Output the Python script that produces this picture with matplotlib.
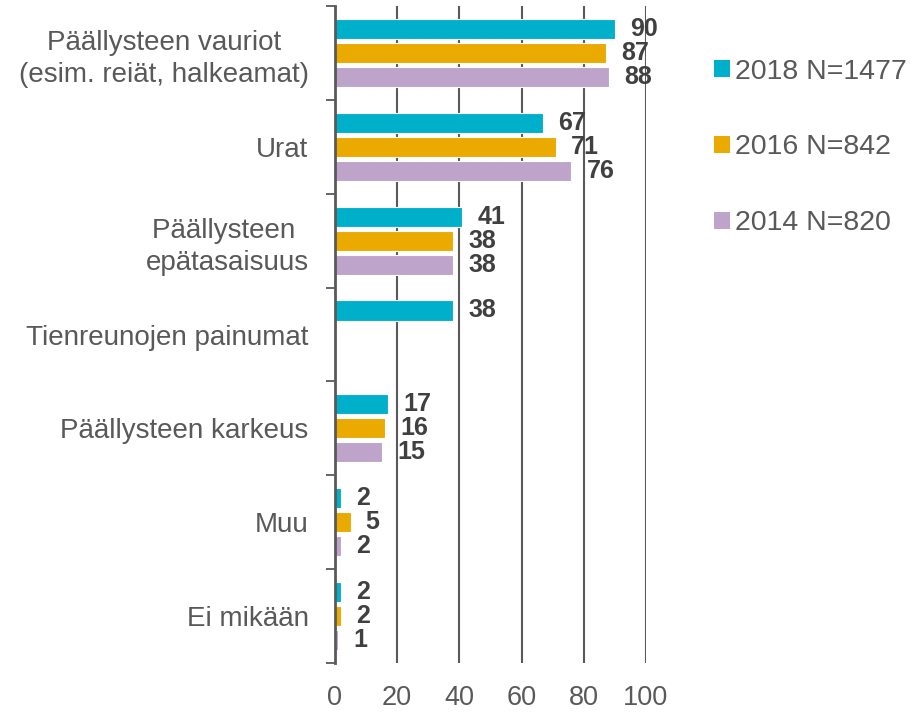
import matplotlib.pyplot as plt
from matplotlib.patches import Patch
import numpy as np

plt.rcParams['font.family'] = ['Liberation Sans', 'DejaVu Sans']

categories = ['Päällysteen vauriot\n(esim. reiät, halkeamat)', 'Urat',
              'Päällysteen \nepätasaisuus', 'Tienreunojen painumat',
              'Päällysteen karkeus', 'Muu', 'Ei mikään']
series_names = ['2018 N=1477', '2016 N=842', '2014 N=820']
vals_2018 = [90, 67, 41, 38, 17, 2, 2]
vals_2016 = [87, 71, 38, None, 16, 5, 2]
vals_2014 = [88, 76, 38, None, 15, 2, 1]
colors = ['#00B0CA', '#EBAA00', '#BEA3CB']
xticks = [0, 20, 40, 60, 80, 100]

grey = '#595959'

fig = plt.figure(figsize=(9.22, 7.15), dpi=100)
ax = fig.add_axes([0.3633, 0.0727, 0.3373, 0.9189])

y = np.arange(len(categories))
off = 0.256
for i, (vals, col) in enumerate(zip([vals_2018, vals_2016, vals_2014], colors)):
    ys = [yy + (i - 1) * off for yy, v in zip(y, vals) if v is not None]
    vs = [v for v in vals if v is not None]
    bars = ax.barh(ys, vs, height=0.215, color=col, edgecolor='white',
                   linewidth=0.8, zorder=3)
    ax.bar_label(bars, labels=[str(v) for v in vs], padding=11,
                 fontsize=18, fontweight='bold', color='#404040')

ax.set_xlim(0, 100)
ax.set_ylim(len(categories) - 0.5, -0.5)
ax.set_xticks(xticks)
ax.set_xticklabels([str(t) for t in xticks], fontsize=19.5, color=grey)
ax.tick_params(axis='x', length=0, pad=16)
ax.xaxis.grid(True, color=grey, linewidth=1.5, zorder=0)

ax.set_yticks(y)
ax.set_yticklabels(categories, fontsize=20, color=grey, ha='right',
                   multialignment='center', linespacing=1.3)
ax.tick_params(axis='y', which='major', length=0, pad=19)
ax.set_yticks(np.arange(len(categories) + 1) - 0.5, minor=True)
ax.tick_params(axis='y', which='minor', length=6.5, width=1.3, color=grey, direction='out')

for s in ['top', 'right', 'bottom']:
    ax.spines[s].set_visible(False)
ax.spines['left'].set_color(grey)
ax.spines['left'].set_linewidth(2)
ax.spines['left'].set_zorder(4)

handles = [Patch(facecolor=c, edgecolor='none') for c in colors]
leg = fig.legend(handles, series_names, loc='upper left',
                 bbox_to_anchor=(0.7744, 0.918), frameon=False, fontsize=20.5,
                 labelspacing=1.75, handlelength=0.55, handleheight=0.55,
                 handletextpad=0.18, borderpad=0, borderaxespad=0)
for t in leg.get_texts():
    t.set_color(grey)

fig.savefig('out.png', dpi=100)
